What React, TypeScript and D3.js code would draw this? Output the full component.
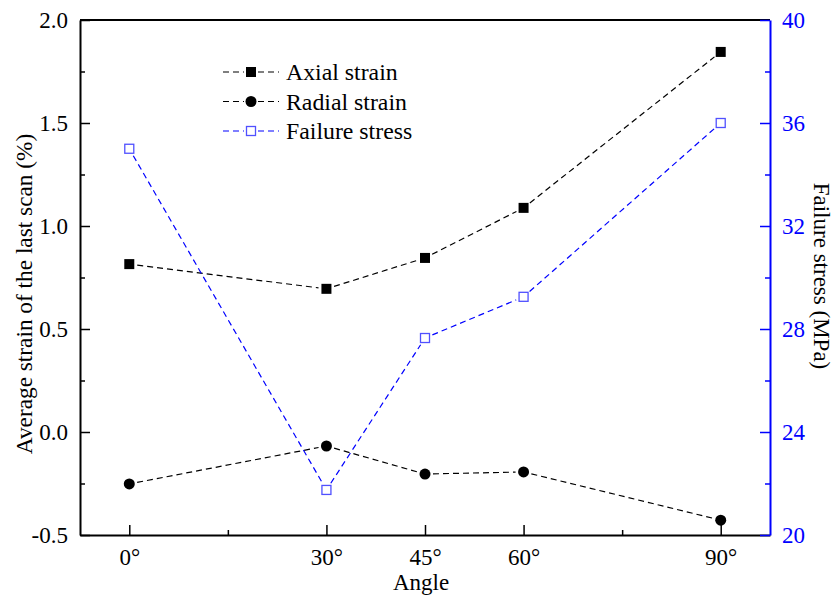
import { useRef, useEffect } from "react";
import * as d3 from "d3";

const angles = [0, 30, 45, 60, 90];
const axialStrain = [0.815, 0.695, 0.845, 1.088, 1.845];
const radialStrain = [-0.252, -0.068, -0.204, -0.194, -0.428];
const failureStress = [35.0, 21.75, 27.65, 29.25, 36.0];

const xTickLabels = ["0°", "30°", "45°", "60°", "90°"];
const xMinorTicks = [15, 75];
const leftTicks = [-0.5, 0.0, 0.5, 1.0, 1.5, 2.0];
const leftMinor = [-0.25, 0.25, 0.75, 1.25, 1.75];
const rightTicks = [20, 24, 28, 32, 36, 40];
const rightMinor = [22, 26, 30, 34, 38];

const legendLabels = ["Axial strain", "Radial strain", "Failure stress"];

export default function App() {
  const svgRef = useRef(null);

  useEffect(() => {
    const m = { left: 80, right: 770, top: 20, bottom: 535 };
    const font = "'Liberation Serif', 'Times New Roman', Times, serif";
    const blue = "#0000ff";

    const svg = d3.select(svgRef.current).html(null);

    const x = d3.scaleLinear().domain([-7.5, 97.5]).range([m.left, m.right]);
    const yL = d3.scaleLinear().domain([-0.5, 2.0]).range([m.bottom, m.top]);
    const yR = d3.scaleLinear().domain([20, 40]).range([m.bottom, m.top]);

    // dashed series, with gaps around the markers
    const drawSeries = (vals, scaleY, color, gap) => {
      const g = svg.append("g");
      for (let i = 0; i < vals.length - 1; i++) {
        const x1 = x(angles[i]), y1 = scaleY(vals[i]);
        const x2 = x(angles[i + 1]), y2 = scaleY(vals[i + 1]);
        const len = Math.hypot(x2 - x1, y2 - y1);
        const ux = (x2 - x1) / len, uy = (y2 - y1) / len;
        g.append("line")
          .attr("x1", x1 + ux * gap).attr("y1", y1 + uy * gap)
          .attr("x2", x2 - ux * gap).attr("y2", y2 - uy * gap)
          .attr("stroke", color)
          .attr("stroke-width", 1.2)
          .attr("stroke-dasharray", "6,4");
      }
    };
    drawSeries(axialStrain, yL, "#000", 8);
    drawSeries(radialStrain, yL, "#000", 8);
    drawSeries(failureStress, yR, blue, 8);

    const marker = (g, type, cx, cy) => {
      if (type === 0) {
        g.append("rect").attr("x", cx - 5).attr("y", cy - 5).attr("width", 10).attr("height", 10).attr("fill", "#000");
      } else if (type === 1) {
        g.append("circle").attr("cx", cx).attr("cy", cy).attr("r", 5.5).attr("fill", "#000");
      } else {
        g.append("rect").attr("x", cx - 4.5).attr("y", cy - 4.5).attr("width", 9).attr("height", 9)
          .attr("fill", "#fff").attr("stroke", "#5050ff").attr("stroke-width", 1.3);
      }
    };
    const mg = svg.append("g");
    angles.forEach((a, i) => {
      marker(mg, 0, x(a), yL(axialStrain[i]));
      marker(mg, 1, x(a), yL(radialStrain[i]));
      marker(mg, 2, x(a), yR(failureStress[i]));
    });

    // top frame line
    svg.append("line").attr("x1", m.left).attr("x2", m.right).attr("y1", m.top).attr("y2", m.top)
      .attr("stroke", "#000").attr("stroke-width", 2);

    // bottom axis
    const gx = svg.append("g").attr("transform", `translate(0,${m.bottom})`)
      .call(d3.axisBottom(x).tickValues(angles).tickSizeInner(-10).tickSizeOuter(0)
        .tickFormat((d, i) => xTickLabels[i]).tickPadding(14));
    svg.append("g").attr("transform", `translate(0,${m.bottom})`)
      .call(d3.axisBottom(x).tickValues(xMinorTicks).tickSizeInner(-5).tickSizeOuter(0).tickFormat(() => ""))
      .select(".domain").remove();

    // left axis
    const gl = svg.append("g").attr("transform", `translate(${m.left},0)`)
      .call(d3.axisLeft(yL).tickValues(leftTicks).tickSizeInner(-10).tickSizeOuter(0)
        .tickFormat((d) => d.toFixed(1)).tickPadding(12));
    svg.append("g").attr("transform", `translate(${m.left},0)`)
      .call(d3.axisLeft(yL).tickValues(leftMinor).tickSizeInner(-5).tickSizeOuter(0).tickFormat(() => ""))
      .select(".domain").remove();

    // right axis
    const gr = svg.append("g").attr("transform", `translate(${m.right},0)`)
      .call(d3.axisRight(yR).tickValues(rightTicks).tickSizeInner(-10).tickSizeOuter(0).tickPadding(12));
    svg.append("g").attr("transform", `translate(${m.right},0)`)
      .call(d3.axisRight(yR).tickValues(rightMinor).tickSizeInner(-5).tickSizeOuter(0).tickFormat(() => ""))
      .attr("color", blue)
      .select(".domain").remove();

    [gx, gl].forEach((g) => g.attr("color", "#000"));
    gr.attr("color", blue);
    svg.selectAll(".domain").attr("stroke-width", 2);
    svg.selectAll(".tick line").attr("stroke-width", 1.5);
    svg.selectAll("g").attr("font-family", null).attr("font-size", null);
    svg.selectAll(".tick text").style("font-family", font).style("font-size", "23px");
    gl.selectAll(".tick text").attr("dy", "0.34em");
    gr.selectAll(".tick text").attr("dy", "0.34em");

    // titles
    svg.append("text").attr("x", (m.left + m.right) / 2 - 4).attr("y", 590)
      .attr("text-anchor", "middle").style("font-family", font).style("font-size", "23px").text("Angle");
    svg.append("text").attr("transform", `translate(32,294) rotate(-90)`)
      .attr("text-anchor", "middle").style("font-family", font).style("font-size", "23.3px")
      .text("Average strain of the last scan (%)");
    svg.append("text").attr("transform", `translate(814,276) rotate(90)`)
      .attr("text-anchor", "middle").style("font-family", font).style("font-size", "23px")
      .text("Failure stress (MPa)");

    // legend
    const lg = svg.append("g");
    const legendColors = ["#000", "#000", blue];
    legendLabels.forEach((lab, i) => {
      const ly = 72 + i * 29.5;
      [[223, 244], [258, 279]].forEach(([a, b]) => {
        lg.append("line").attr("x1", a).attr("x2", b).attr("y1", ly).attr("y2", ly)
          .attr("stroke", legendColors[i]).attr("stroke-width", 1.2).attr("stroke-dasharray", "6,4");
      });
      marker(lg, i, 251, ly);
      lg.append("text").attr("x", 286).attr("y", ly).attr("dy", "0.34em")
        .style("font-family", font).style("font-size", "23.8px").text(lab);
    });
  }, []);

  return (
    <svg ref={svgRef} width={834} height={598}
      style={{ display: "block", position: "absolute", left: 0, top: 0, background: "#fff" }}></svg>
  );
}
